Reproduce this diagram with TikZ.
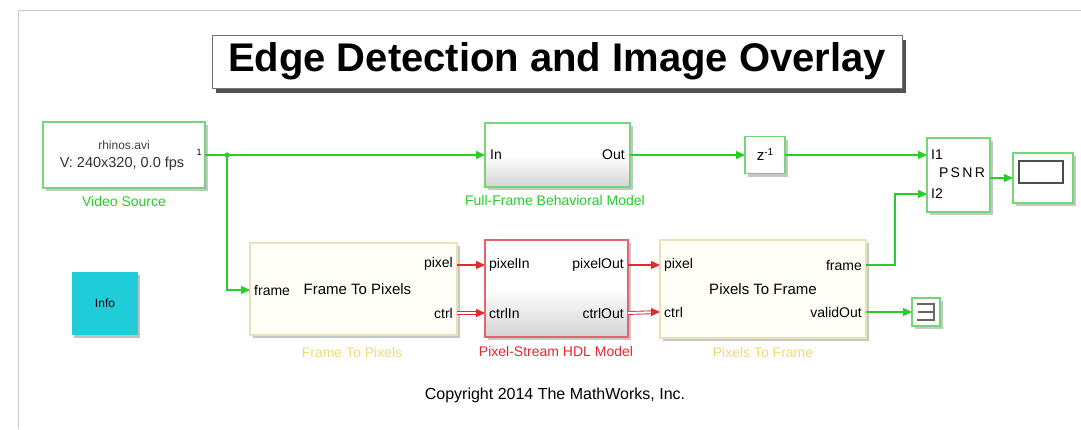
\documentclass[tikz,border=0pt]{standalone}
\usepackage{fontspec}
\setmainfont{Liberation Sans}
\usetikzlibrary{arrows.meta,shadows}
\definecolor{simgreen}{RGB}{40,205,40}
\definecolor{blkgreen}{RGB}{120,212,120}
\definecolor{creamfill}{RGB}{255,255,247}
\definecolor{creamdraw}{RGB}{232,226,180}
\definecolor{labyellow}{RGB}{236,220,120}
\definecolor{simred}{RGB}{228,40,50}
\definecolor{hdlred}{RGB}{225,100,110}
\definecolor{infocyan}{RGB}{30,205,215}
\definecolor{framegray}{RGB}{205,205,205}
\begin{document}
\begin{tikzpicture}[x=1pt,y=-1pt,
  font=\fontsize{14}{16}\selectfont,
  sh/.style={drop shadow={shadow xshift=2.5pt,shadow yshift=-3pt,fill=black,opacity=0.22}},
  gblock/.style={draw=blkgreen, line width=1.3pt, fill=white, sh, inner sep=0pt, outer sep=0pt},
  ggrad/.style={draw=blkgreen, line width=1.3pt, top color=white, bottom color=black!17, middle color=white, sh, inner sep=0pt, outer sep=0pt},
  cblock/.style={draw=creamdraw, line width=1.3pt, fill=creamfill, sh, inner sep=0pt, outer sep=0pt, font=\fontsize{15}{17}\selectfont},
  rgrad/.style={draw=hdlred, line width=1.3pt, top color=white, bottom color=black!17, middle color=white, sh, inner sep=0pt, outer sep=0pt},
  portw/.style={anchor=west, inner sep=1pt},
  porte/.style={anchor=east, inner sep=1pt},
  glabel/.style={text=simgreen},
  ylabel/.style={text=labyellow},
  rlabel/.style={text=simred},
  tip/.style={-{Triangle[length=9pt,width=8pt]}},
  sig/.style={simgreen, line width=1.2pt, tip},
  rsig/.style={simred, line width=1.2pt, tip},
  rbus/.style={simred, line width=0.9pt, double=white, double distance=2pt, shorten >=7pt}
]
\useasboundingbox (0,0) rectangle (1081,429);
\fill[white] (0,0) rectangle (1081,429);
% window frame
\draw[framegray, line width=1pt] (18,429) -- (18,10) -- (1081,10);

% title
\node[draw=black!55, line width=1pt, fill=white, minimum width=690pt, minimum height=53pt, inner sep=0pt,
  drop shadow={shadow xshift=4pt, shadow yshift=-5pt, fill=black!80, opacity=0.85}]
  (title) at (557,61.5) {\fontsize{40}{44}\selectfont\bfseries Edge Detection and Image Overlay};

% Video source
\node[gblock, minimum width=162pt, minimum height=66pt] (vs) at (124,155) {};
\node[text=black!75] (vs-t1) at (124,145) {\fontsize{12}{14}\selectfont rhinos.avi};
\node[text=black!80] (vs-t2) at (122,164) {\fontsize{14.5}{16}\selectfont V: 240x320, 0.0 fps};
\node[inner sep=0pt] (vs-p) at (199,152) {\fontsize{9}{10}\selectfont 1};
\node[glabel] (vs-lab) at (124,201) {Video Source};

% Full-frame model
\node[ggrad, minimum width=145pt, minimum height=64pt] (ff) at (557.5,155) {};
\node[portw] (ff-in) at (489,155) {In};
\node[porte] (ff-out) at (626,155) {Out};
\node[glabel] (ff-lab) at (555,200) {Full-Frame Behavioral Model};

% unit delay
\node[gblock, minimum width=40pt, minimum height=37pt, font=\fontsize{15}{17}\selectfont] (zd) at (765,155) {z\raisebox{5pt}{\fontsize{10}{11}\selectfont -1}};

% PSNR
\node[gblock, minimum width=63pt, minimum height=74pt] (psnr) at (958.5,175) {};
\node[portw] (psnr-i1) at (930,155) {I1};
\node (psnr-t) at (962,173) {P\,S\,N\,R};
\node[portw] (psnr-i2) at (930,194) {I2};

% Display
\node[gblock, minimum width=60pt, minimum height=50pt] (disp) at (1043,178) {};
\node[draw=black!70, line width=1.6pt, fill=white, minimum width=44pt, minimum height=22pt, inner sep=0pt] (disp-scr) at (1041,172) {};

% Frame to pixels
\node[cblock, minimum width=207pt, minimum height=92pt] (ftp) at (353.5,289) {\hspace*{8pt}Frame To Pixels};
\node[portw] (ftp-frame) at (253,290) {frame};
\node[porte] (ftp-pixel) at (454,264) {pixel};
\node[porte] (ftp-ctrl) at (454,313) {ctrl};
\node[ylabel] (ftp-lab) at (352,352) {Frame To Pixels};

% HDL model
\node[rgrad, minimum width=143pt, minimum height=97pt] (hdl) at (556.5,288.5) {};
\node[portw] (hdl-pi) at (488,265) {pixelIn};
\node[portw] (hdl-ci) at (488,313) {ctrlIn};
\node[porte] (hdl-po) at (625,265) {pixelOut};
\node[porte] (hdl-co) at (625,313) {ctrlOut};
\node[rlabel] (hdl-lab) at (556,351) {Pixel-Stream HDL Model};

% Pixels to frame
\node[cblock, minimum width=206pt, minimum height=98pt] (ptf) at (763,289) {Pixels To Frame};
\node[portw] (ptf-pixel) at (663,265) {pixel};
\node[portw] (ptf-ctrl) at (663,312) {ctrl};
\node[porte] (ptf-frame) at (863,265) {frame};
\node[porte] (ptf-valid) at (863,312) {validOut};
\node[ylabel] (ptf-lab) at (763,352) {Pixels To Frame};

% Terminator
\node[gblock, minimum width=28pt, minimum height=28pt] (term) at (926,312) {};
\draw[black!60, line width=1.3pt] (917,304) -- (934,304) -- (934,320) -- (917,320) (918,312) -- (934,312);

% Info
\node[fill=infocyan, minimum width=66pt, minimum height=63pt, inner sep=0pt,
  drop shadow={shadow xshift=2pt, shadow yshift=-3pt, fill=black!70!magenta, opacity=0.35}] (info) at (105,303.5) {\fontsize{12}{14}\selectfont Info};

% copyright
\node (copy) at (555,395) {\fontsize{16}{18}\selectfont Copyright 2014 The MathWorks, Inc.};

% port coordinates
\coordinate (br) at (227,155);
\coordinate (ftp-in) at (ftp.west |- ftp-frame);
\coordinate (psnr-in1) at (psnr.west |- psnr-i1);
\coordinate (psnr-in2) at (psnr.west |- psnr-i2);
\coordinate (psnr-o) at (psnr.east |- disp);
\coordinate (ftp-po) at (ftp.east |- hdl-pi);
\coordinate (ftp-co) at (ftp.east |- hdl-ci);
\coordinate (hdl-pin) at (hdl.west |- hdl-pi);
\coordinate (hdl-cin) at (hdl.west |- hdl-ci);
\coordinate (hdl-pout) at (hdl.east |- hdl-po);
\coordinate (hdl-cout) at (hdl.east |- hdl-co);
\coordinate (ptf-pin) at (ptf.west |- ptf-pixel);
\coordinate (ptf-cin) at (ptf.west |- ptf-ctrl);
\coordinate (ptf-fout) at (ptf.east |- ptf-frame);
\coordinate (ptf-vout) at (ptf.east |- ptf-valid);
\coordinate (bend) at (895,265);

% connectors
\draw[sig] (vs.east) -- (ff.west);
\fill[simgreen] (br) circle (2.6pt);
\draw[sig] (br) |- (ftp-in);
\draw[sig] (ff.east) -- (zd.west);
\draw[sig] (zd.east) -- (psnr-in1);
\draw[sig] (psnr-o) -- (disp.west);
\draw[rsig] (ftp-po) -- (hdl-pin);
\draw[rbus] (ftp-co) -- (hdl-cin);
\draw[rsig] ([xshift=-9pt]hdl-cin) -- (hdl-cin);
\draw[rsig] (hdl-pout) -- (ptf-pin);
\draw[rbus] (hdl-cout) -- (ptf-cin);
\draw[rsig] ([xshift=-9pt]ptf-cin) -- (ptf-cin);
\draw[sig] (ptf-fout) -- (bend) |- (psnr-in2);
\draw[sig] (ptf-vout) -- (term.west);
\end{tikzpicture}
\end{document}
